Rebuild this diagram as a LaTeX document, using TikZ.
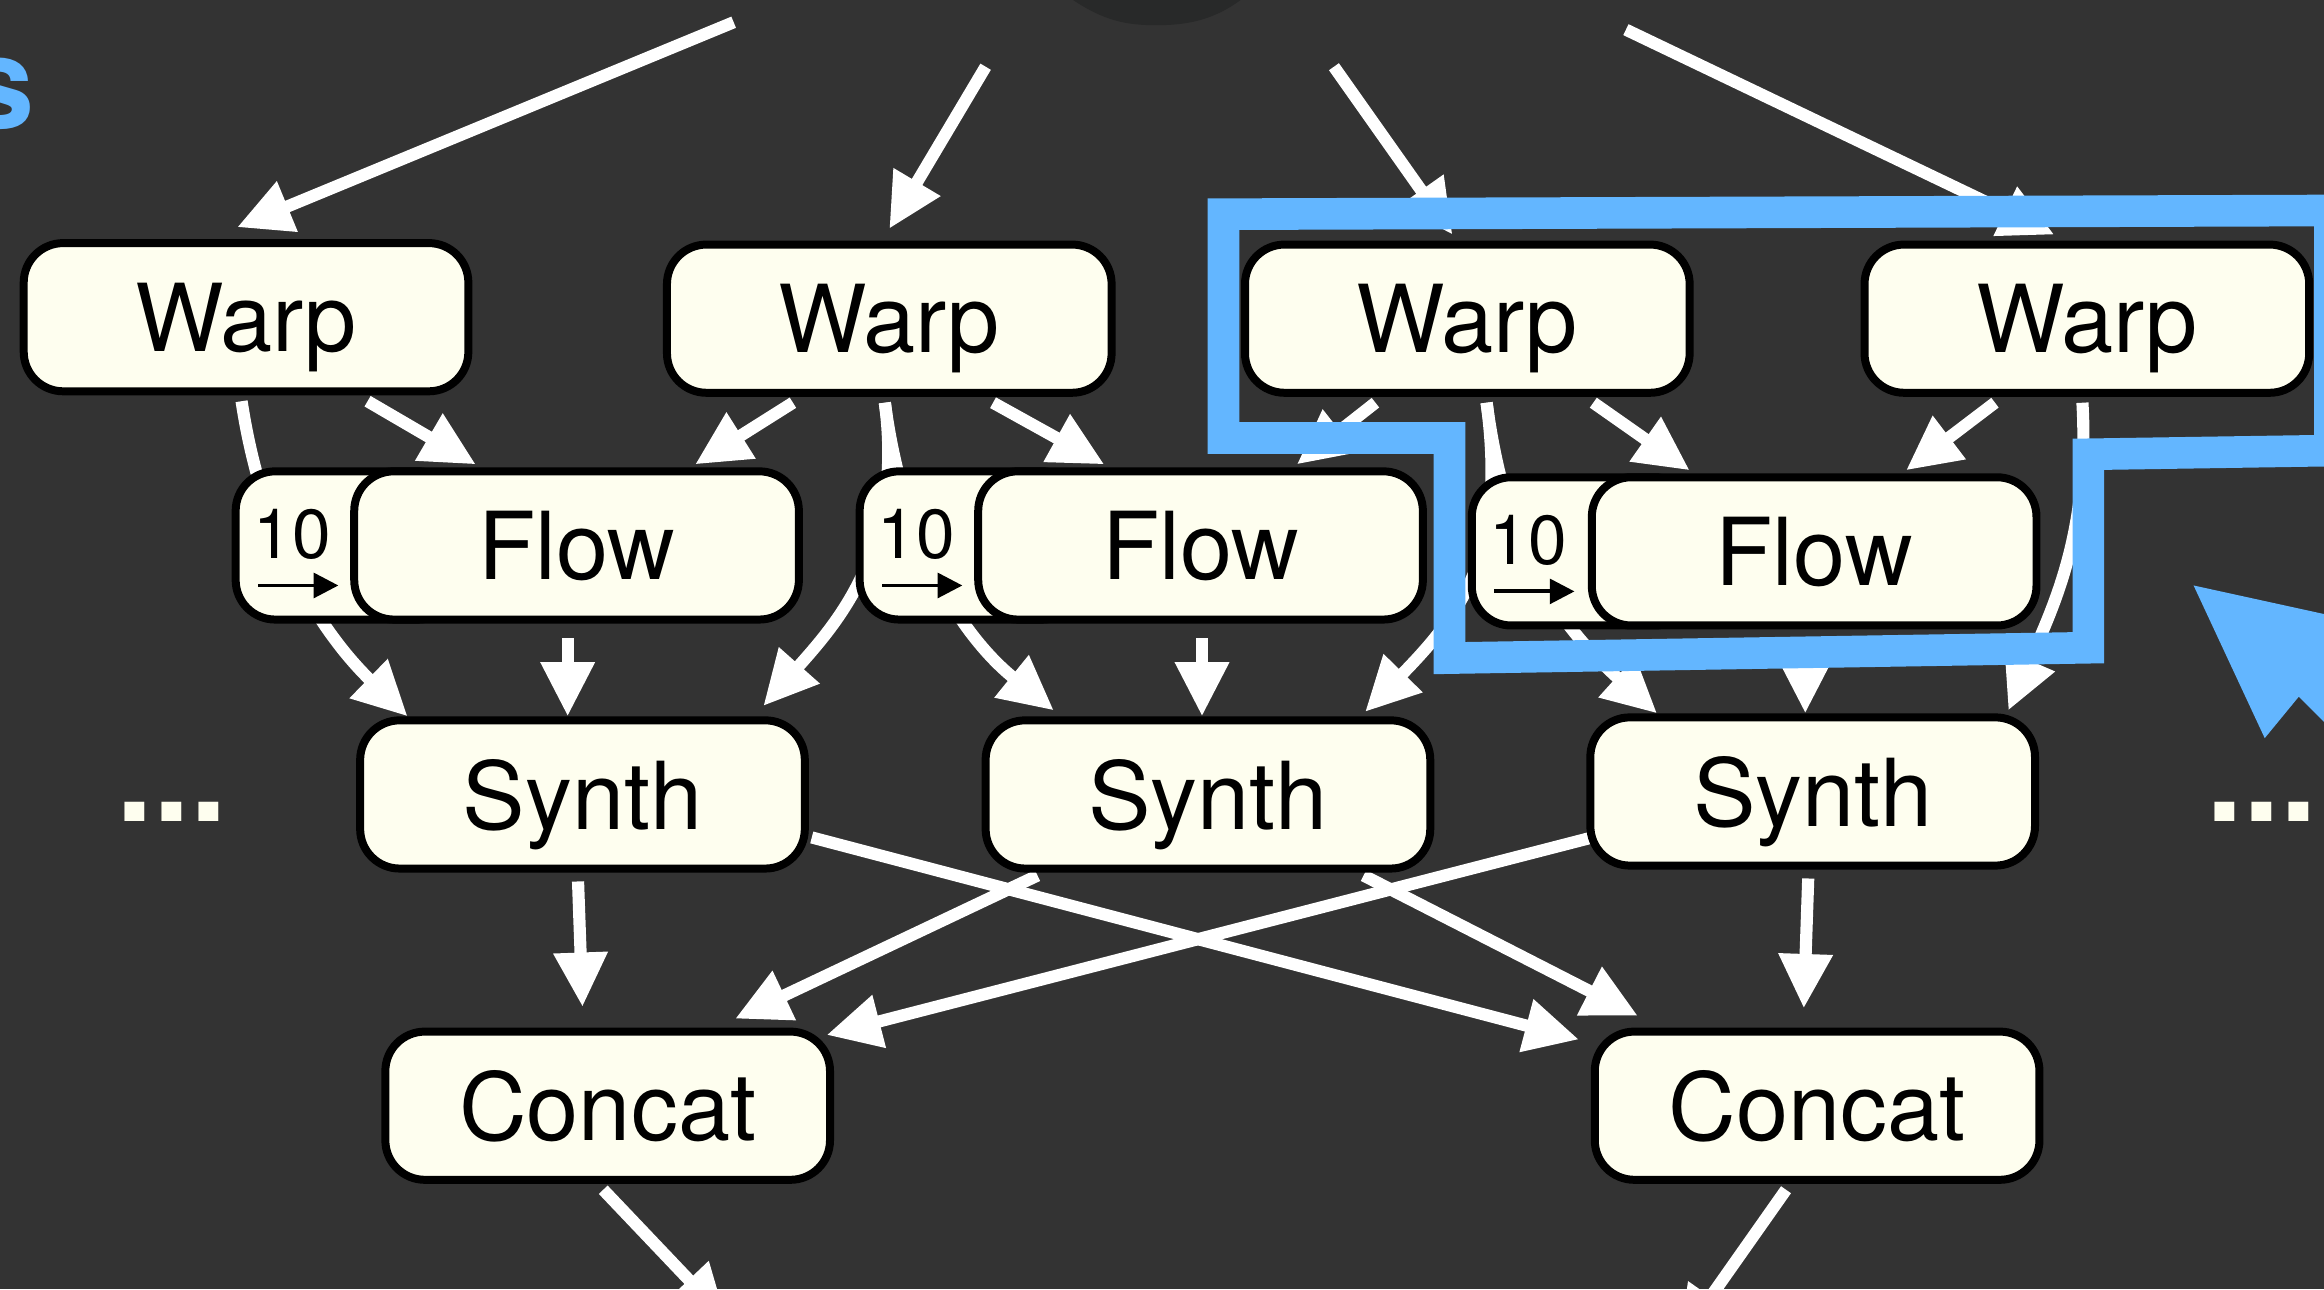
\documentclass[tikz,border=0pt]{standalone}
\usepackage{fontspec}
\setmainfont{TeX Gyre Heros}
\usepackage{tikz}
\usetikzlibrary{arrows.meta}
\definecolor{slide}{RGB}{51,51,51}
\definecolor{cream}{RGB}{254,254,239}
\definecolor{hilite}{RGB}{99,182,255}
\definecolor{capshade}{RGB}{40,41,41}
\pgfdeclarelayer{back}
\pgfsetlayers{back,main}
\tikzset{%
    box/.style={draw=black,line width=2.3pt,fill=cream,rounded corners=0.4cm,
        minimum width=4.5cm,minimum height=1.5cm,text depth=0pt,
        font=\fontsize{27}{30}\selectfont},
    tag/.style={draw=black,line width=2.3pt,fill=cream,rounded corners=0.4cm,
        minimum width=2.25cm,minimum height=1.5cm},
    tagnum/.style={inner sep=0pt,text depth=0pt,font=\fontsize{20}{22}\selectfont},
    wire/.style={draw=white,line width=3.5pt,-{Triangle[length=0.55cm,width=0.52cm]}},
    tick/.style={draw=black,line width=1.1pt,-{Triangle[length=0.25cm,width=0.25cm]}},
    dots/.style={text=cream,inner sep=0pt,font=\bfseries\fontsize{38}{40}\selectfont}
}

\begin{document}
\begin{tikzpicture}[x=0.015cm,y=-0.015cm]
        \useasboundingbox (0,0) rectangle (1568,870);
        \clip (0,0) rectangle (1568,870);

        \node[box] (w1) at (166,214){Warp};
        \node[box] (w2) at (600,215){Warp};
        \node[box] (w3) at (990,215){Warp};
        \node[box] (w4) at (1408,215){Warp};

        \node[tag] (t1) at (234,368){};
        \node[box] (f1) at (389,368){Flow};
        \node[tag] (t2) at (655,368){};
        \node[box] (f2) at (810,368){Flow};
        \node[tag] (t3) at (1068,372){};
        \node[box] (f3) at (1224,372){Flow};

        \node[tagnum] (n1) at ([shift={(41,-8)}]t1.west){10};
        \node[tagnum] (n2) at ([shift={(41,-8)}]t2.west){10};
        \node[tagnum] (n3) at ([shift={(41,-8)}]t3.west){10};
        \draw[tick] ([shift={(18,27)}]t1.west) -- ([shift={(72,27)}]t1.west);
        \draw[tick] ([shift={(18,27)}]t2.west) -- ([shift={(72,27)}]t2.west);
        \draw[tick] ([shift={(18,27)}]t3.west) -- ([shift={(72,27)}]t3.west);

        \node[box] (s1) at (393,536){Synth};
        \node[box] (s2) at (815,536){Synth};
        \node[box] (s3) at (1223,534){Synth};

        \node[box] (c1) at (410,746){Concat};
        \node[box] (c2) at (1226,746){Concat};

        \node[dots] (ml) at (116,548){...};
        \node[dots] (mr) at (1526,548){...};
        \node[anchor=base east,inner sep=0pt,text=hilite,
            font=\bfseries\fontsize{37}{40}\selectfont] (ttl) at (24,87){s};

        \coordinate (i1) at (495,15);
        \coordinate (i2) at (665,45);
        \coordinate (i3) at (900,45);
        \coordinate (i4) at (1097,20);
        \coordinate (o1) at (490,890);
        \coordinate (o2) at (1133,905);

        \begin{pgfonlayer}{back}
        \fill[slide] (0,0) rectangle (1568,870);
        \fill[capshade] (724,0) .. controls (745,14) and (760,17) .. (780,17)
            .. controls (800,17) and (818,14) .. (837,0) -- cycle;

        \draw[wire] (i1) -- ([shift={(-6,-8)}]w1.north);
        \draw[wire] (i2) -- ([shift={(0,-8)}]w2.north);
        \draw[wire] (i3) -- ([shift={(-10,-4)}]w3.north);
        \draw[wire] (i4) -- ([shift={(-22,-4)}]w4.north);

        \draw[wire] ([shift={(82,4)}]w1.south) -- ([shift={(-68,-2)}]f1.north);
        \draw[wire] ([shift={(-65,4)}]w2.south) -- ([shift={(80,-2)}]f1.north);
        \draw[wire] ([shift={(70,4)}]w2.south) -- ([shift={(-65,-2)}]f2.north);
        \draw[wire] ([shift={(-62,4)}]w3.south) -- ([shift={(65,-2)}]f2.north);
        \draw[wire] ([shift={(85,4)}]w3.south) -- ([shift={(-84,-2)}]f3.north);
        \draw[wire] ([shift={(-62,4)}]w4.south) -- ([shift={(62,-2)}]f3.north);

        \draw[wire] ([shift={(-3,4)}]w1.south) .. controls (178,370) and (220,430) .. ([shift={(-118,0)}]s1.north);
        \draw[wire] ([shift={(-3,4)}]w2.south) .. controls (610,370) and (565,420) .. ([shift={(122,-7)}]s1.north);
        \draw[wire] ([shift={(-3,4)}]w2.south) .. controls (610,370) and (650,430) .. ([shift={(-104,-4)}]s2.north);
        \draw[wire] ([shift={(13,4)}]w3.south) .. controls (1016,370) and (990,410) .. ([shift={(106,-3)}]s2.north);
        \draw[wire] ([shift={(13,4)}]w3.south) .. controls (1016,370) and (1050,420) .. ([shift={(-105,0)}]s3.north);
        \draw[wire] ([shift={(-3,4)}]w4.south) .. controls (1410,360) and (1385,410) .. ([shift={(132,-2)}]s3.north);

        \draw[wire] ([shift={(-6,10)}]f1.south) -- ([shift={(-10,0)}]s1.north);
        \draw[wire] ([shift={(1,10)}]f2.south) -- ([shift={(-4,0)}]s2.north);
        \draw[wire] ([shift={(-6,10)}]f3.south) -- ([shift={(-5,0)}]s3.north);

        \draw[wire] ([shift={(-3,6)}]s1.south) -- ([shift={(-17,-14)}]c1.north);
        \draw[wire] ([shift={(-3,6)}]s3.south) -- ([shift={(-9,-13)}]c2.north);
        \draw[wire] ([shift={(2,29)}]s1.east) -- ([shift={(-8,8)}]c2.north west);
        \draw[wire] ([shift={(-115,2)}]s2.south) -- ([shift={(86,-6)}]c1.north);
        \draw[wire] ([shift={(105,2)}]s2.south) -- ([shift={(-121,-8)}]c2.north);
        \draw[wire] ([shift={(4,31)}]s3.west) -- ([shift={(-5,5)}]c1.north east);

        \draw[wire] ([shift={(-3,4)}]c1.south) -- (o1);
        \draw[wire] ([shift={(-21,4)}]c2.south) -- (o2);
        \end{pgfonlayer}

        % selection outline
        \draw[hilite,line width=0.32cm,line join=miter] (825.5,144.5) -- (1572,142) -- (1572,304)
            -- (1409,306.5) -- (1409,437) -- (978,444) -- (978,295.5) -- (825.5,295.5) -- cycle;
        \fill[hilite] (1480,395) -- (1528,498) -- (1551,470) -- (1585,504) -- (1585,418) -- cycle;
    \end{tikzpicture}
\end{document}
